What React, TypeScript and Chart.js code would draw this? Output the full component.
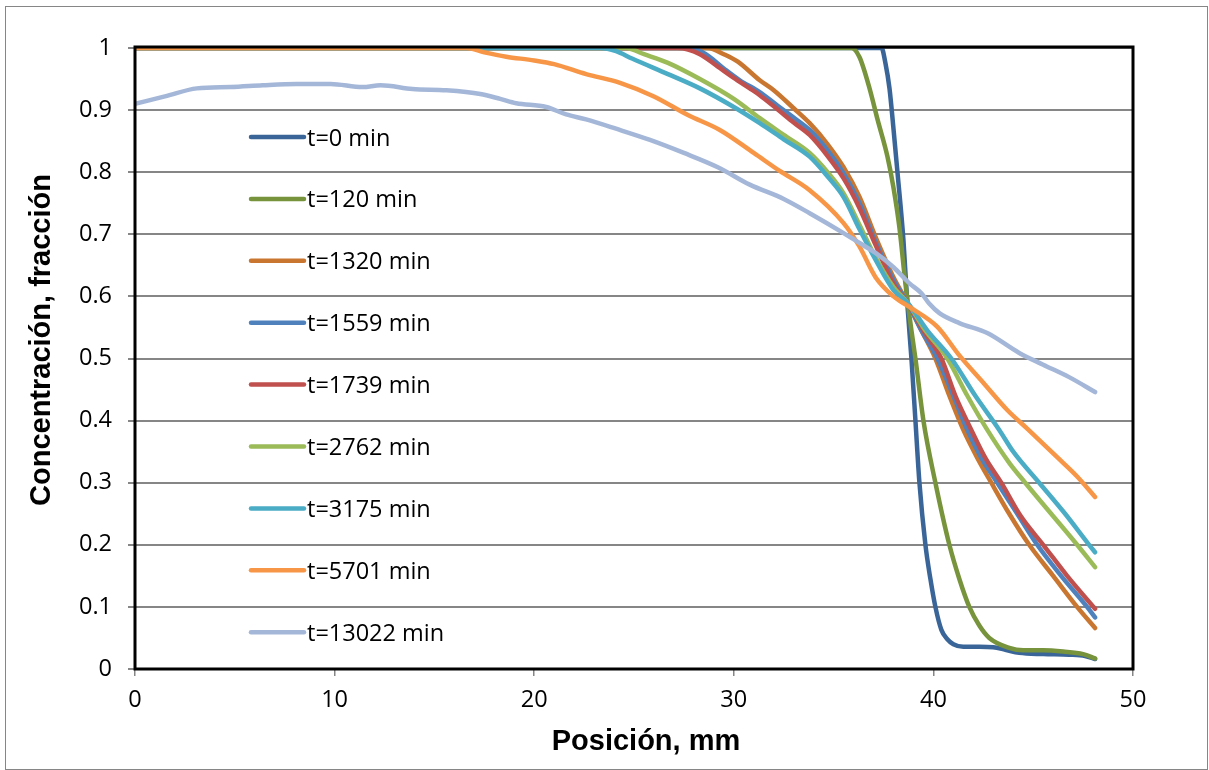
import React, { useEffect, useRef } from "react";
import { Chart, registerables } from "chart.js";

Chart.register(...registerables);

// ---- data ----
const seriesLabels = [
  "t=0 min",
  "t=120 min",
  "t=1320 min",
  "t=1559 min",
  "t=1739 min",
  "t=2762 min",
  "t=3175 min",
  "t=5701 min",
  "t=13022 min",
];

const seriesColors = [
  "#3a6598",
  "#77933c",
  "#c97631",
  "#4f81bd",
  "#c0504d",
  "#9bbb59",
  "#4bacc6",
  "#f79646",
  "#a4b7d8",
];

const posT0 = [0, 37.4, 37.6, 37.8, 38.0, 38.2, 38.5, 38.7, 38.9, 39.1, 39.3, 39.6, 39.85, 40.1, 40.4, 40.7, 41.0, 41.5, 42.3, 43.0, 43.6, 44.3, 45.5, 46.8, 47.6, 48.1];
const concT0 = [1, 1, 0.975, 0.935, 0.87, 0.8, 0.69, 0.585, 0.5, 0.4, 0.3, 0.2, 0.145, 0.1, 0.063, 0.048, 0.04, 0.036, 0.036, 0.035, 0.031, 0.026, 0.024, 0.023, 0.021, 0.016];

const posT120 = [0, 35.9, 36.3, 36.8, 37.2, 37.7, 38.0, 38.3, 38.6, 38.9, 39.1, 39.5, 40.1, 40.8, 41.3, 41.8, 42.3, 42.8, 43.8, 44.5, 45.5, 46.5, 47.5, 48.1];
const concT120 = [1, 1, 0.985, 0.935, 0.885, 0.825, 0.775, 0.71, 0.62, 0.545, 0.5, 0.4, 0.3, 0.2, 0.145, 0.1, 0.07, 0.05, 0.034, 0.03, 0.03, 0.028, 0.024, 0.017];

const posT1320 = [0, 28.7, 29.5, 30.2, 31.3, 32.0, 33.0, 33.8, 34.7, 35.5, 36.3, 37.1, 38.0, 38.7, 39.4, 40.1, 40.8, 41.5, 42.2, 42.9, 43.8, 44.8, 46.0, 47.2, 48.1];
const concT1320 = [1, 1, 0.99, 0.978, 0.948, 0.932, 0.903, 0.879, 0.845, 0.808, 0.76, 0.696, 0.631, 0.59, 0.545, 0.5, 0.44, 0.385, 0.34, 0.3, 0.25, 0.2, 0.15, 0.1, 0.066];

const posT1559 = [0, 27.8, 28.6, 29.5, 30.3, 31.3, 32.2, 33.0, 33.8, 34.7, 35.5, 36.3, 37.1, 38.0, 38.7, 39.4, 40.2, 41.0, 41.7, 42.4, 43.2, 44.2, 45.2, 46.4, 47.7, 48.1];
const concT1559 = [1, 1, 0.99, 0.967, 0.948, 0.929, 0.907, 0.888, 0.868, 0.835, 0.798, 0.75, 0.688, 0.626, 0.59, 0.545, 0.5, 0.44, 0.385, 0.34, 0.3, 0.25, 0.2, 0.15, 0.1, 0.083];

const posT1739 = [0, 27.2, 28.3, 29.2, 30.0, 30.8, 31.3, 32.2, 33.0, 33.8, 34.7, 35.5, 36.3, 37.1, 38.0, 38.7, 39.5, 40.4, 41.1, 41.9, 42.6, 43.4, 44.4, 45.5, 46.7, 48.1];
const concT1739 = [1, 1, 0.99, 0.97, 0.952, 0.935, 0.924, 0.901, 0.88, 0.86, 0.826, 0.79, 0.742, 0.683, 0.62, 0.59, 0.545, 0.5, 0.44, 0.385, 0.34, 0.3, 0.245, 0.2, 0.15, 0.097];

const posT2762 = [0, 24.6, 25.5, 26.7, 28.3, 30.0, 31.3, 32.5, 33.8, 34.7, 35.5, 36.3, 37.1, 38.0, 38.7, 39.6, 40.7, 41.7, 42.7, 43.8, 44.6, 45.9, 47.2, 48.1];
const concT2762 = [1, 1, 0.99, 0.976, 0.95, 0.918, 0.887, 0.86, 0.831, 0.8, 0.766, 0.715, 0.663, 0.615, 0.59, 0.545, 0.5, 0.44, 0.385, 0.332, 0.3, 0.25, 0.2, 0.164];

const posT3175 = [0, 23.3, 24.1, 24.9, 26.7, 28.3, 30.0, 31.3, 32.5, 33.8, 34.7, 35.5, 36.3, 37.1, 38.0, 38.7, 39.7, 40.9, 42.1, 43.3, 44.0, 45.3, 46.6, 47.8, 48.1];
const concT3175 = [1, 1, 0.995, 0.983, 0.958, 0.935, 0.905, 0.879, 0.853, 0.825, 0.793, 0.76, 0.708, 0.659, 0.61, 0.59, 0.545, 0.5, 0.44, 0.385, 0.35, 0.3, 0.25, 0.2, 0.188];

const posT5701 = [0, 16.6, 17.5, 18.6, 20.0, 21.0, 22.6, 24.3, 26.0, 27.7, 29.3, 31.0, 32.3, 33.8, 35.5, 36.3, 37.1, 38.0, 38.8, 40.2, 41.3, 42.5, 43.7, 44.7, 46.2, 47.2, 48.1];
const concT5701 = [1, 1, 0.993, 0.986, 0.98, 0.974, 0.958, 0.944, 0.922, 0.892, 0.868, 0.831, 0.802, 0.771, 0.718, 0.68, 0.631, 0.6, 0.583, 0.551, 0.505, 0.461, 0.417, 0.387, 0.341, 0.31, 0.277];

const posT13022 = [0, 1.5, 3.1, 4.8, 6.4, 8.1, 9.8, 11.4, 12.3, 13.9, 15.6, 17.3, 18.3, 19.1, 20.6, 21.6, 22.6, 24.1, 25.8, 27.5, 29.2, 30.8, 32.5, 33.8, 35.5, 36.3, 37.1, 38.0, 38.8, 39.4, 39.8, 40.3, 41.3, 42.7, 44.3, 45.5, 46.8, 48.1];
const concT13022 = [0.91, 0.922, 0.935, 0.937, 0.94, 0.942, 0.942, 0.937, 0.94, 0.934, 0.932, 0.926, 0.918, 0.911, 0.905, 0.893, 0.885, 0.87, 0.852, 0.831, 0.808, 0.78, 0.757, 0.734, 0.702, 0.686, 0.67, 0.647, 0.621, 0.605, 0.588, 0.573, 0.557, 0.541, 0.509, 0.49, 0.47, 0.446];

const seriesPositions = [posT0, posT120, posT1320, posT1559, posT1739, posT2762, posT3175, posT5701, posT13022];
const seriesConcentrations = [concT0, concT120, concT1320, concT1559, concT1739, concT2762, concT3175, concT5701, concT13022];

const xTickLabels = ["0", "10", "20", "30", "40", "50"];
const yTickLabels = ["0", "0.1", "0.2", "0.3", "0.4", "0.5", "0.6", "0.7", "0.8", "0.9", "1"];
const xTitle = "Posición, mm";
const yTitle = "Concentración, fracción";

const TICK_FONT = { family: '"Open Sans", sans-serif', size: 23.5 };
const TITLE_FONT = 'bold 29px "Liberation Sans", Arial, sans-serif';
const LEGEND_FONT = '23.5px "Open Sans", sans-serif';

const framePlugin = {
  id: "frame",
  afterDatasetsDraw(chart: any) {
    const { ctx, chartArea } = chart;
    ctx.save();
    ctx.strokeStyle = "#000";
    ctx.lineWidth = 3;
    ctx.strokeRect(chartArea.left, chartArea.top - 1, chartArea.right - chartArea.left, chartArea.bottom - chartArea.top + 1);
    ctx.restore();
  },
};

const legendPlugin = {
  id: "inlineLegend",
  afterDraw(chart: any) {
    const { ctx } = chart;
    ctx.save();
    chart.data.datasets.forEach((ds: any, i: number) => {
      const y = 137 + i * 61.9;
      ctx.strokeStyle = ds.borderColor;
      ctx.lineWidth = 4.5;
      ctx.lineCap = "round";
      ctx.beginPath();
      ctx.moveTo(251, y);
      ctx.lineTo(304, y);
      ctx.stroke();
      ctx.fillStyle = "#000";
      ctx.font = LEGEND_FONT;
      ctx.textAlign = "left";
      ctx.textBaseline = "alphabetic";
      ctx.fillText(ds.label, 307, y + 8.5);
    });
    ctx.restore();
  },
};

const titlesPlugin = {
  id: "axisTitles",
  afterDraw(chart: any) {
    const { ctx } = chart;
    ctx.save();
    ctx.fillStyle = "#000";
    ctx.font = TITLE_FONT;
    ctx.textAlign = "center";
    ctx.textBaseline = "alphabetic";
    ctx.fillText(xTitle, 646, 750);
    ctx.translate(50, 340);
    ctx.rotate(-Math.PI / 2);
    ctx.fillText(yTitle, 0, 0);
    ctx.restore();
  },
};

export default function App() {
  const ref = useRef<HTMLCanvasElement>(null);

  useEffect(() => {
    if (!ref.current) return;
    const datasets = seriesLabels.map((label, i) => ({
      label,
      data: seriesPositions[i].map((x, j) => ({ x, y: seriesConcentrations[i][j] })),
      borderColor: seriesColors[i],
      backgroundColor: seriesColors[i],
      borderWidth: 4.5,
      pointRadius: 0,
      pointHoverRadius: 0,
      fill: false,
      cubicInterpolationMode: "monotone" as const,
      borderCapStyle: "round" as const,
      borderJoinStyle: "round" as const,
      order: -i,
    }));

    const chart = new Chart(ref.current, {
      type: "line",
      data: { datasets },
      options: {
        animation: false,
        responsive: false,
        devicePixelRatio: 1,
        layout: { padding: { top: 48, right: 76, left: 0, bottom: 0 } },
        plugins: {
          legend: { display: false },
          tooltip: { enabled: false },
          title: { display: false },
        },
        scales: {
          x: {
            type: "linear",
            min: 0,
            max: 50,
            ticks: {
              stepSize: 10,
              color: "#000",
              font: TICK_FONT,
              padding: 10,
              maxRotation: 0,
              callback: (_v: any, idx: number) => xTickLabels[idx],
            },
            grid: { drawOnChartArea: false, color: "#868686", lineWidth: 1.5, tickLength: 7 },
            border: { display: false },
            afterFit: (s: any) => {
              s.height = 101;
            },
          },
          y: {
            type: "linear",
            min: 0,
            max: 1,
            ticks: {
              stepSize: 0.1,
              color: "#000",
              font: TICK_FONT,
              padding: 16,
              callback: (_v: any, idx: number) => yTickLabels[idx],
            },
            grid: { color: "#868686", lineWidth: 2, tickLength: 7 },
            border: { display: false },
            afterFit: (s: any) => {
              s.width = 135;
            },
          },
        },
      },
      plugins: [framePlugin, legendPlugin, titlesPlugin],
    });
    return () => chart.destroy();
  }, []);

  return (
    <div style={{ position: "fixed", left: 0, top: 0, width: 1209, height: 770, background: "#fff", overflow: "hidden" }}>
      <div
        style={{
          position: "absolute",
          left: 5,
          top: 6,
          width: 1203,
          height: 764,
          boxSizing: "border-box",
          border: "1px solid #868686",
        }}
      />
      <canvas ref={ref} width={1209} height={770} style={{ position: "absolute", left: 0, top: 0, width: 1209, height: 770 }} />
    </div>
  );
}
